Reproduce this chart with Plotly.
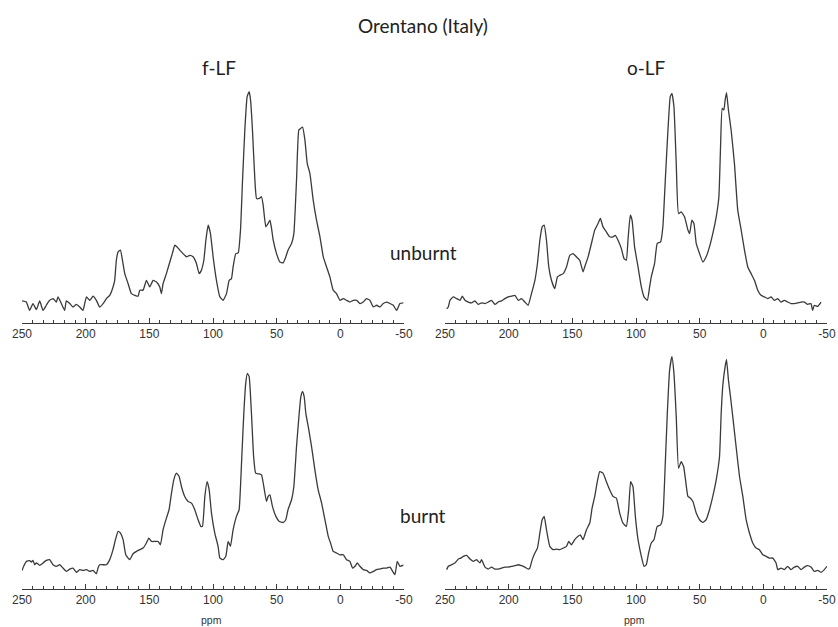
import plotly.graph_objects as go

# f-LF unburnt
ppm_f_unburnt = [250, 246.6, 244, 241.4, 238.7, 236.1, 233.5, 230.9, 228.3, 225.6, 223, 221.7, 219.1, 216.5, 215.2,
                 212.5, 209.9, 207.3, 204.7, 202.1, 199.4, 196.8, 194.2, 191.6, 189, 186.3, 183.7, 181.1, 178.5, 177.2,
                 175.9, 174.5, 172.7, 171.1, 169.3, 166.7, 164.1, 161.4, 158.8, 157.5, 154.9, 152.3, 151, 149.7, 147,
                 144.4, 141.8, 140.5, 139.2, 136.6, 133.9, 131.8, 130, 128.2, 126.1, 123.5, 120.8, 118.2, 115.6, 113,
                 110.9, 109.1, 107.2, 105.6, 103.8, 102, 99.9, 97.3, 94.6, 92, 89.4, 87.3, 85.5, 84.2, 82.1, 80.2, 78.4,
                 76.8, 75, 73.2, 71.6, 70.5, 69, 67.1, 65.8, 63.7, 61.9, 60.6, 58.5, 56.7, 55.3, 54, 52.7, 50.1, 47.5,
                 44.9, 42.8, 41.1, 38.3, 36.5, 34.4, 32.6, 31.2, 29.7, 27.8, 26, 23.9, 21.3, 18.7, 16, 13.4, 10.8, 8.2,
                 5.6, 3, 0.3, -2.3, -4.9, -7.5, -10.2, -12.8, -15.4, -18, -20.6, -23.2, -25.9, -28.5, -31.1, -33.7,
                 -36.4, -39, -41.6, -44.2, -46.8, -49.5]
int_f_unburnt = [2.8, 2.3, -1.6, 1.6, -1.2, 2.8, -1.6, 0.8, 3.1, 3.9, 2.3, 4.7, 1.6, -1.6, 2.8,
                 1.6, 0, 1.2, 0, -1.6, 4.7, 3.1, 5.0, 3.1, 0, 1.6, 3.9, 5.4, 9.3, 12.4,
                 21.7, 25.6, 26.4, 21.7, 15.5, 10.9, 6.2, 5.4, 5.0, 7.8, 7.8, 12.4, 10.9, 9.3, 12.4,
                 11.6, 9.3, 6.2, 10.9, 15.5, 20.9, 25.1, 28.7, 27.9, 26.4, 24.8, 23.3, 24.0, 23.3, 20.2,
                 15.5, 17.1, 21.7, 31.0, 38.0, 34.1, 23.3, 12.4, 4.7, 3.1, 6.2, 12.4, 13.2, 18.6, 24.8, 25.1, 35.7,
                 58.9, 82.2, 97.7, 100, 96.1, 82.2, 58.9, 50.4, 50.4, 51.2, 47.3, 37.2, 38.8, 40.3, 36.4, 31.0, 24.8, 20.9,
                 20.5, 23.3, 26.4, 29.5, 34.1, 58.9, 82.2, 82.9, 83.7, 77.5, 66.7, 62.0, 49.6, 40.3, 32.6, 23.3, 18.6, 14.0,
                 7.8, 6.2, 3.1, 3.9, 3.1, 2.3, 3.1, 3.1, 1.6, 2.3, 3.9, 3.1, 0, 0.8, 0, 1.6,
                 2.3, 1.6, 0.8, -1.6, 1.6, 1.9]

# o-LF unburnt
ppm_o_unburnt = [248.7, 247.4, 246.1, 243.5, 240.9, 238.2, 236.4, 234.3, 231.7, 229.1, 226.5, 223.9, 221.3, 218.6,
                 216, 213.4, 210.8, 208.2, 205.6, 203, 200.4, 197.7, 195.1, 192.5, 189.9, 187.3, 184.7, 182.1, 179.4,
                 177.4, 175.5, 173.7, 172.1, 170.3, 168.5, 166.4, 163.8, 161.7, 159.9, 157.2, 154.6, 152, 149.4, 146.8,
                 144.2, 141.6, 140.3, 137.6, 135, 132.4, 129.8, 128, 125.9, 123.3, 120.7, 118, 116.2, 114.1, 111.5,
                 109.4, 107.6, 106.3, 104.5, 103.1, 101.1, 98.4, 95.8, 93.7, 91.1, 89.3, 88, 85.4, 83.3, 80.7, 78.9,
                 77, 74.9, 73.1, 71.8, 70.2, 68.4, 66.6, 64.5, 61.9, 59.2, 57.9, 56.1, 54.5, 52.7, 50.1, 47.5, 44.9,
                 42.3, 39.7, 37, 34.9, 33.6, 32.3, 31, 30, 28.9, 27.4, 25.3, 22.7, 20.1, 17.4, 14.8, 12.2, 9.6, 7, 4.4,
                 1.8, -0.8, -3.5, -6.1, -8.7, -11.3, -13.9, -16.5, -19.1, -21.8, -24.4, -27, -29.6, -32.2, -34.8,
                 -37.4, -38.7, -40, -42.7, -45.3, -47.9]
int_o_unburnt = [-0.8, 0, 3.1, 4.7, 3.9, 3.1, 5.0, 3.1, 2.3, 1.9, 2.8, 1.2, 1.9, 1.6,
                 2.3, 3.1, 1.2, 2.3, 2.8, 3.9, 4.7, 5.0, 5.4, 3.1, 3.9, 2.3, 0.8, 6.2, 12.4,
                 20.2, 31.0, 37.2, 38.0, 31.0, 18.6, 12.4, 8.5, 14.0, 14.7, 15.5, 18.6, 24.0, 24.8, 23.3,
                 21.7, 16.3, 18.6, 23.3, 29.5, 35.7, 38.8, 41.1, 37.2, 34.9, 32.6, 32.6, 33.3, 31.0, 27.1,
                 22.5, 21.7, 31.0, 42.6, 40.3, 27.9, 18.6, 9.3, 4.7, 3.1, 9.3, 14.0, 20.2, 29.5, 30.2, 37.2,
                 58.9, 82.2, 97.7, 99.2, 93.0, 66.7, 43.4, 44.2, 41.9, 35.7, 34.1, 40.3, 38.8, 29.5, 24.8, 20.9, 23.3,
                 27.9, 34.1, 41.9, 51.2, 74.4, 92.2, 91.5, 96.1, 99.5, 91.5, 82.2, 66.7, 45.0, 35.7, 26.4, 18.6, 15.5, 12.4,
                 7.8, 5.4, 4.7, 3.9, 4.7, 3.1, 3.9, 2.3, 3.1, 2.3, 1.6, 1.6, 1.9, 2.3, 2.3,
                 1.2, 1.6, -1.6, 0.8, 0.3, 2.3]

# f-LF burnt
ppm_f_burnt = [250, 248.7, 246.6, 244, 242.7, 241.4, 240.0, 238.7, 236.1, 233.5, 230.9, 228.3, 225.6, 223, 220.4,
               217.8, 215.2, 212.5, 209.9, 207.3, 204.7, 202.1, 199.4, 196.8, 194.2, 191.6, 190.3, 189, 186.3, 183.7,
               181.1, 178.5, 176.6, 174.5, 172.7, 170.6, 168.5, 165.4, 162.8, 160.1, 157.5, 154.9, 152.3, 150.4,
               148.3, 145.7, 143.1, 141.3, 139.2, 136.6, 134.5, 132.6, 130.8, 128.7, 126.6, 124.8, 122.2, 119.5,
               116.9, 114.3, 111.7, 109.6, 108.3, 106.4, 104.6, 103, 101.2, 98.6, 96, 94.6, 92, 89.9, 88.1, 86.3,
               84.2, 81.6, 79.5, 77.6, 75.8, 74.3, 73, 71.6, 69.8, 68.1, 66.5, 63.7, 61.9, 60.1, 58, 56.7, 55.3,
               53.3, 50.6, 48, 44.9, 42.8, 41.1, 38.3, 36.5, 34.4, 32.3, 31, 29.7, 28.4, 27.1, 25.2, 22.6, 20, 17.4,
               14.7, 12.1, 9.5, 7.7, 5.6, 3, 0.3, -2.3, -4.9, -7.5, -9.6, -11.5, -13.3, -15.4, -18, -20.6, -23.2,
               -25.9, -28.5, -31.1, -33.7, -36.4, -39, -41.1, -42.9, -44.7, -46.8, -49.5]
int_f_burnt = [-0.7, 1.4, 3.9, 4.3, 3.6, 4.4, 2.2, 3.1, 1.9, 3.1, 4.4, 4.8, 2.2, 1.4, 2.2,
               0.5, -1.2, 0, 0.5, -1.7, -0.3, -0.7, -0.3, -1.2, -0.7, -2.4, 0.5, 2.2, 2.2, 2.2,
               4.8, 9.9, 15.0, 19.2, 18.4, 15.0, 7.3, 4.8, 7.8, 9.0, 9.9, 10.7, 13.3, 15.8,
               14.1, 14.1, 14.1, 12.4, 20.1, 26.0, 30.3, 38.8, 45.6, 49.0, 47.3, 42.2, 37.1, 34.5,
               33.7, 30.3, 25.2, 21.8, 21.8, 37.1, 44.7, 40.5, 28.6, 18.4, 11.6, 5.6, 4.8, 6.5, 14.1, 11.6,
               20.1, 26.9, 30.3, 54.1, 79.6, 94.9, 100, 98.3, 79.6, 57.5, 49.0, 48.6, 48.1, 42.2, 34.5, 37.1, 37.9,
               32.0, 26.9, 24.3, 23.8, 25.2, 30.3, 35.4, 42.2, 62.6, 79.6, 88.1, 90.6, 88.1, 79.6, 72.8, 62.6, 50.7,
               40.5, 33.7, 25.2, 16.7, 13.3, 9.0, 8.2, 7.3, 7.3, 4.8, 3.9, 0.5, 1.4, 3.1, 1.4, -0.3, -0.7, -2.0,
               -1.2, -0.3, 0, 0.5, 0.5, 1.0, -1.2, -2.9, 3.9, 1.4, 2.0]

# o-LF burnt
ppm_o_burnt = [248.7, 247.4, 244.8, 242.2, 239.5, 237.5, 235.6, 233, 230.4, 227.8, 225.2, 222.6, 221.3, 218.6, 216,
               213.4, 210.8, 208.2, 205.6, 203, 200.4, 197.7, 195.1, 192.5, 189.9, 187.3, 184.7, 183.4, 181.5, 179.4,
               177.4, 175.5, 173.7, 172.1, 170.3, 167.7, 165.1, 162.5, 159.9, 157.2, 154.6, 152.8, 150.7, 148.1,
               145.5, 143.7, 141.6, 138.9, 136.3, 134.5, 132.4, 130.6, 128.5, 125.9, 123.3, 120.7, 118, 115.4,
               112.8, 110.2, 107.6, 105.8, 104.2, 102.4, 100.5, 98.4, 95.8, 93.7, 91.9, 90.1, 88, 85.9, 83.3, 80.7,
               78.9, 77, 75.4, 73.6, 71.8, 70.2, 68.4, 66.6, 64.5, 62.6, 61.1, 59.2, 57.2, 55.3, 52.7, 50.1, 47.5,
               44.9, 42.3, 39.7, 37, 34.4, 33.1, 31.8, 30, 28.9, 27.4, 25.8, 24.0, 21.4, 18.7, 16.1, 13.5, 10.9, 8.3,
               5.7, 3.1, 0.5, -2.2, -4.8, -7.4, -10, -11.3, -13.9, -16.5, -19.1, -21.8, -24.4, -27, -29.6, -32.2,
               -34.8, -37.4, -40, -42.7, -45.3, -47.9, -50]
int_o_burnt = [-0.3, 1.4, 2.2, 3.1, 5.1, 5.6, 6.5, 7.0, 5.1, 3.9, 4.8, 3.1, 4.8, 1.0, 0,
               1.0, 0, 0, 0.5, 1.0, 1.0, 1.4, 1.7, 2.2, 1.7, 1.0, 0, 0.5, 4.8, 8.2,
               10.7, 18.4, 25.2, 26.9, 20.1, 11.6, 9.9, 10.2, 9.9, 10.7, 11.6, 14.1, 12.4, 15.0,
               16.7, 17.5, 15.0, 20.1, 23.5, 31.1, 37.1, 43.9, 49.8, 49.0, 44.7, 40.5, 37.1, 36.2,
               28.6, 23.5, 21.8, 30.3, 44.7, 42.2, 26.9, 15.0, 6.5, 1.4, 2.2, 8.2, 13.3, 15.0, 21.8, 22.6,
               26.9, 54.1, 79.6, 101.7, 108.5, 100.0, 77.9, 51.5, 54.9, 52.4, 45.6, 37.1, 36.2, 34.5, 28.6, 25.2, 23.8,
               25.2, 30.3, 37.1, 45.6, 57.5, 79.6, 94.0, 103.4, 107.1, 96.6, 88.1, 77.9, 62.6, 47.3, 37.1, 25.2, 18.4, 13.3,
               10.7, 9.9, 7.3, 6.5, 5.6, 5.6, 3.1, -0.3, 0.5, -0.3, 1.4, -0.3, 1.0, 1.4, -0.3, 1.0,
               1.7, 1.0, -1.2, -0.7, -1.7, -0.3, 1.4, 0]

tick_vals = [250, 200, 150, 100, 50, 0, -50]
tick_text = ["250", "200", "150", "100", "50", "0", "-50"]

LINE = "#3a3a3a"
W, H = 838, 627

fig = go.Figure()
panels = [
    (ppm_f_unburnt, int_f_unburnt, "x", "y"),
    (ppm_o_unburnt, int_o_unburnt, "x2", "y2"),
    (ppm_f_burnt, int_f_burnt, "x3", "y3"),
    (ppm_o_burnt, int_o_burnt, "x4", "y4"),
]
for xs, ys, xa, ya in panels:
    fig.add_trace(go.Scatter(x=xs, y=ys, mode="lines", xaxis=xa, yaxis=ya,
                             line=dict(color=LINE, width=1.3, shape="spline", smoothing=0.4),
                             showlegend=False, hoverinfo="skip"))

xdom_l = [22 / W, 404 / W]
xdom_r = [445 / W, 827 / W]
ydom_t = [1 - 323 / H, 1 - 85 / H]
ydom_b = [1 - 589 / H, 1 - 345 / H]

def xaxis(dom, anchor):
    return dict(domain=dom, anchor=anchor, range=[250, -50], showgrid=False, zeroline=False,
                showline=True, linecolor=LINE, linewidth=1,
                tickmode="array", tickvals=tick_vals, ticktext=tick_text,
                ticks="inside", ticklen=5, tickcolor=LINE, tickwidth=1,
                tickfont=dict(family="Liberation Sans, Arial", size=12, color="#333"),
                minor=dict(dtick=50 / 6, tick0=-50, ticks="inside", ticklen=3, tickcolor=LINE, tickwidth=1),
                fixedrange=True, automargin=False)

def yaxis(dom, anchor, rng):
    return dict(domain=dom, anchor=anchor, range=rng, visible=False, fixedrange=True)

rng_t = [-7.44, 103.1]
rng_b = [-10.2, 114.5]

fig.update_layout(
    width=W, height=H, autosize=False, margin=dict(l=0, r=0, t=0, b=0, pad=0, autoexpand=False),
    paper_bgcolor="white", plot_bgcolor="white",
    xaxis=xaxis(xdom_l, "y"), yaxis=yaxis(ydom_t, "x", rng_t),
    xaxis2=xaxis(xdom_r, "y2"), yaxis2=yaxis(ydom_t, "x2", rng_t),
    xaxis3=xaxis(xdom_l, "y3"), yaxis3=yaxis(ydom_b, "x3", rng_b),
    xaxis4=xaxis(xdom_r, "y4"), yaxis4=yaxis(ydom_b, "x4", rng_b),
)

TXT = dict(family="Lato, Open Sans, sans-serif", size=19, color="#222")
SMALL = dict(family="Liberation Sans, Arial", size=10.5, color="#333")
annos = [
    ("Orentano (Italy)", 423, 26, TXT),
    ("f-LF", 219, 67, TXT),
    ("o-LF", 646, 67, TXT),
    ("unburnt", 423, 252, TXT),
    ("burnt", 423, 515, TXT),
    ("ppm", 211, 620, SMALL),
    ("ppm", 634, 620, SMALL),
]
for text, px, py, font in annos:
    fig.add_annotation(text=text, x=px / W, y=1 - py / H, xref="paper", yref="paper",
                       showarrow=False, font=font, xanchor="center", yanchor="middle")

post = ("document.body.style.margin='0';document.body.style.padding='0';"
        "document.body.style.overflow='hidden';"
        "document.documentElement.style.overflow='hidden';"
        "var gd=document.getElementById('{plot_id}');"
        "Plotly.relayout(gd,{width:%d,height:%d});" % (W, H))

fig.write_html("out.html", config={"responsive": False, "displayModeBar": False}, post_script=post)
